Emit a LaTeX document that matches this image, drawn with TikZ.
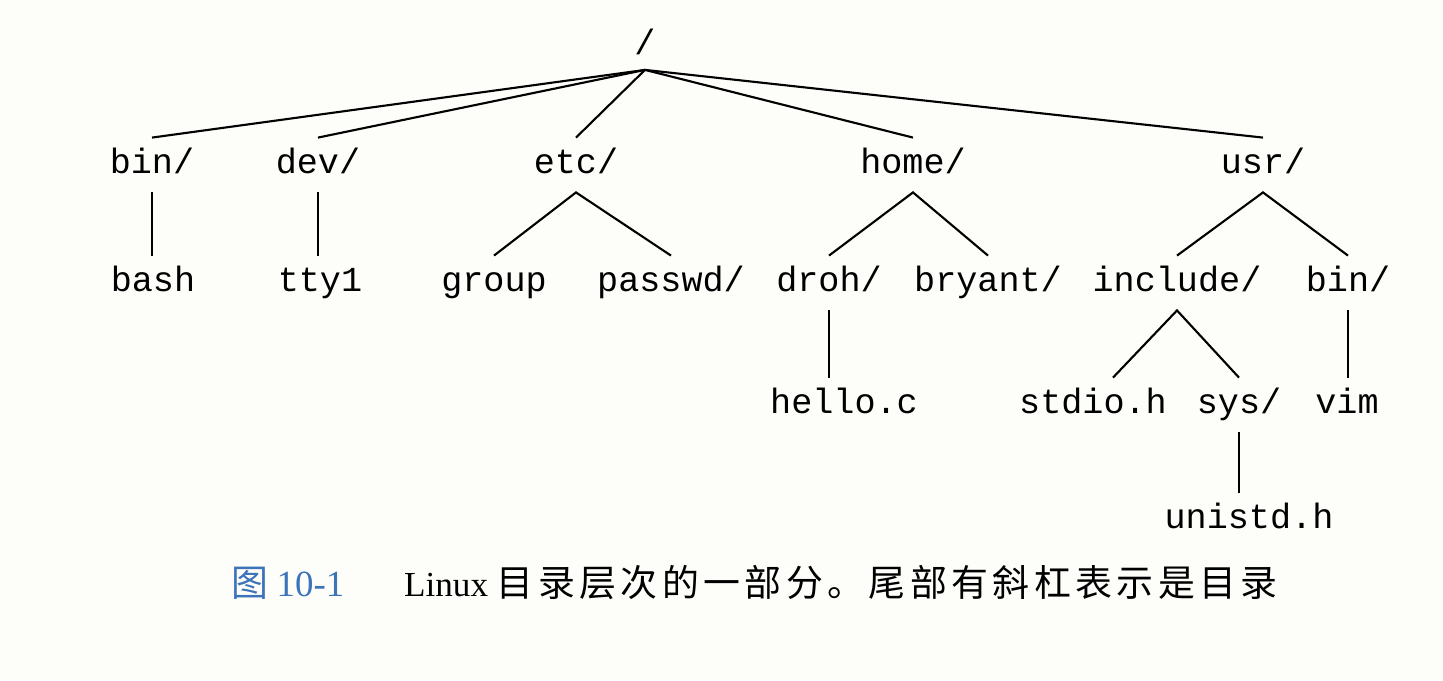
\documentclass[tikz,border=0pt]{standalone}
\usepackage{fontspec}
\setmainfont{Liberation Serif}
\setmonofont{Liberation Mono}
\newfontfamily\cjk[LetterSpace=12]{Noto Sans CJK SC}
\definecolor{capblue}{RGB}{60,115,185}
\definecolor{paper}{RGB}{253,253,250}

\begin{document}
\begin{tikzpicture}[line width=0.6pt,
    dir/.style={font=\ttfamily, text height=7pt, text depth=2pt, inner sep=3pt}]
  \fill[paper] (0,0) rectangle (14.43,6.80);
  \useasboundingbox (0,0) rectangle (14.43,6.80);
  % Root
  \node[dir, inner sep=2pt] (root) at (6.45,6.34) {/};
  % Level 1
  \node[dir] (bin)  at (1.52,5.15) {bin/};
  \node[dir] (dev)  at (3.18,5.15) {dev/};
  \node[dir] (etc)  at (5.76,5.15) {etc/};
  \node[dir] (home) at (9.13,5.15) {home/};
  \node[dir] (usr)  at (12.63,5.15) {usr/};
  \foreach \d in {bin,dev,etc,home,usr}
    \draw (root.south) -- (\d.north);
  % Level 2
  \node[dir] (bash)    at (1.53,3.97) {bash};
  \node[dir] (tty)     at (3.20,3.97) {tty1};
  \node[dir] (group)   at (4.94,3.97) {group};
  \node[dir] (passwd)  at (6.71,3.97) {passwd/};
  \node[dir] (droh)    at (8.29,3.97) {droh/};
  \node[dir] (bryant)  at (9.88,3.97) {bryant/};
  \node[dir] (include) at (11.77,3.97) {include/};
  \node[dir] (ubin)    at (13.48,3.97) {bin/};
  \draw (bin.south) -- (bin.south |- bash.north);
  \draw (dev.south) -- (dev.south |- tty.north);
  \draw (group.north) -- (etc.south) -- (passwd.north);
  \draw (droh.north) -- (home.south) -- (bryant.north);
  \draw (include.north) -- (usr.south) -- (ubin.north);
  % Level 3
  \node[dir] (hello) at (8.44,2.75) {hello.c};
  \node[dir] (stdio) at (10.93,2.75) {stdio.h};
  \node[dir] (sys)   at (12.39,2.75) {sys/};
  \node[dir] (vim)   at (13.47,2.75) {vim};
  \draw (droh.south) -- (droh.south |- hello.north);
  \draw ([xshift=0.2cm]stdio.north) -- (include.south) -- (sys.north);
  \draw (ubin.south) -- (ubin.south |- vim.north);
  % Level 4
  \node[dir] (unistd) at (12.49,1.60) {unistd.h};
  \draw (sys.south) -- (sys.south |- unistd.north);
  % Caption
  \node[anchor=west, inner sep=0pt, font=\fontsize{10pt}{12pt}\selectfont] (cap) at (2.30,0.97)
    {{\color{capblue}{\cjk\fontsize{10.5pt}{12pt}\selectfont 图} {\fontsize{10.5pt}{12pt}\selectfont 10-1}}\hspace{1.7em}Linux {\cjk\fontsize{10.5pt}{12pt}\selectfont 目录层次的一部分。尾部有斜杠表示是目录}};
\end{tikzpicture}
\end{document}
